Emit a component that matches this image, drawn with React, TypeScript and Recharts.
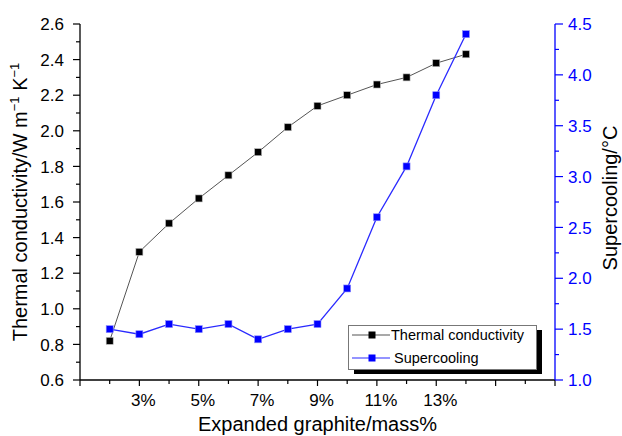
import React from 'react'
import { LineChart, Line, XAxis, YAxis, Legend, Label } from 'recharts'

// expanded graphite content (mass %)
const massPercent = [2, 3, 4, 5, 6, 7, 8, 9, 10, 11, 12, 13, 14]
// W m-1 K-1
const thermalConductivity = [0.82, 1.32, 1.48, 1.62, 1.75, 1.88, 2.02, 2.14, 2.2, 2.26, 2.3, 2.38, 2.43]
// degrees C
const supercooling = [1.5, 1.45, 1.55, 1.5, 1.55, 1.4, 1.5, 1.55, 1.9, 2.6, 3.1, 3.8, 4.4]

const xTicks = [1, 2, 3, 4, 5, 6, 7, 8, 9, 10, 11, 12, 13, 14, 15, 16, 17]
const xLabels = [3, 5, 7, 9, 11, 13]
const leftTicks = [0.6, 0.7, 0.8, 0.9, 1.0, 1.1, 1.2, 1.3, 1.4, 1.5, 1.6, 1.7, 1.8, 1.9, 2.0, 2.1, 2.2, 2.3, 2.4, 2.5, 2.6]
const leftLabels = [0.6, 0.8, 1.0, 1.2, 1.4, 1.6, 1.8, 2.0, 2.2, 2.4, 2.6]
const rightTicks = [1.0, 1.25, 1.5, 1.75, 2.0, 2.25, 2.5, 2.75, 3.0, 3.25, 3.5, 3.75, 4.0, 4.25, 4.5]
const rightLabels = [1.0, 1.5, 2.0, 2.5, 3.0, 3.5, 4.0, 4.5]
const legendOrder = ['tc', 'sc']

const rows = massPercent.map((x, i) => ({
  x,
  tc: thermalConductivity[i],
  sc: supercooling[i],
}))

const FONT = '"Liberation Sans", Arial, Helvetica, sans-serif'
const BLUE = '#0000ff'

const seriesStyle: Record<string, { line: string; marker: string; edge: string }> = {
  tc: { line: '#555555', marker: '#000000', edge: '#bbbbbb' },
  sc: { line: '#2a2aff', marker: '#0000ff', edge: '#8f8fff' },
}

const inList = (list: number[], v: number) => list.some(t => Math.abs(t - v) < 1e-6)

const BottomTick = (props: any) => {
  const { x, y, payload } = props
  const v = payload.value
  return (
    <g>
      <line x1={x} x2={x} y1={y} y2={y + (v % 2 === 1 ? 6 : 4)} stroke="#000" strokeWidth={1.2} />
      {inList(xLabels, v) && (
        <text x={x + 4} y={y + 26} textAnchor="middle" fontSize={17} fontFamily={FONT} fill="#000">
          {v}%
        </text>
      )}
    </g>
  )
}

const TopTick = (props: any) => {
  const { x, y, payload } = props
  return <line x1={x} x2={x} y1={y} y2={y + (payload.value % 2 === 1 ? 6 : 4)} stroke="#000" strokeWidth={1.2} />
}

const LeftTick = (props: any) => {
  const { x, y, payload } = props
  const major = inList(leftLabels, payload.value)
  return (
    <g>
      <line x1={x - (major ? 7 : 4)} x2={x} y1={y} y2={y} stroke="#000" strokeWidth={1.2} />
      {major && (
        <text x={x - 16} y={y} dy="0.36em" textAnchor="end" fontSize={17} fontFamily={FONT} fill="#000">
          {payload.value.toFixed(1)}
        </text>
      )}
    </g>
  )
}

const RightTick = (props: any) => {
  const { x, y, payload } = props
  const major = inList(rightLabels, payload.value)
  return (
    <g>
      <line x1={x} x2={x + (major ? 8 : 4)} y1={y} y2={y} stroke={BLUE} strokeWidth={1.2} />
      {major && (
        <text x={x + 13} y={y} dy="0.36em" textAnchor="start" fontSize={17} fontFamily={FONT} fill={BLUE}>
          {payload.value.toFixed(1)}
        </text>
      )}
    </g>
  )
}

const squareDot = (key: string) => (p: any) => {
  const s = seriesStyle[key]
  if (p.cx == null || p.cy == null) return <g key={p.index} />
  return (
    <rect key={p.index} x={p.cx - 3.5} y={p.cy - 3.5} width={7} height={7}
      fill={s.marker} stroke={s.edge} strokeWidth={0.6} />
  )
}

const LegendBox = (props: any) => {
  const { payload = [] } = props
  const items = [...payload].sort(
    (a: any, b: any) => legendOrder.indexOf(a.dataKey) - legendOrder.indexOf(b.dataKey)
  )
  return (
    <svg width={200} height={56} style={{ display: 'block' }}>
      <rect x={6} y={5} width={188} height={44} fill="#000" />
      <rect x={0.5} y={0.5} width={188} height={44} fill="#fff" stroke="#777" strokeWidth={1} />
      {items.map((entry: any, i: number) => {
        const s = seriesStyle[entry.dataKey]
        const cy = 10 + i * 23
        return (
          <g key={entry.value}>
            <line x1={4} x2={42} y1={cy} y2={cy} stroke={s.line} strokeWidth={1.2} />
            <rect x={20.5} y={cy - 3.5} width={7} height={7} fill={s.marker} />
            <text x={43 + i * 3} y={cy} dy="0.36em" fontSize={14.5} fontFamily={FONT} fill="#000">
              {entry.value}
            </text>
          </g>
        )
      })}
    </svg>
  )
}

const BottomTitle = (props: any) => {
  const vb = props.viewBox
  return (
    <text x={vb.x + vb.width / 2} y={vb.y + 51} textAnchor="middle" fontSize={20} fontFamily={FONT} fill="#000">
      Expanded graphite/mass%
    </text>
  )
}

const LeftTitle = (props: any) => {
  const vb = props.viewBox
  const x = vb.x + 27
  const y = vb.y + vb.height / 2
  return (
    <text x={x} y={y} transform={`rotate(-90, ${x}, ${y})`} textAnchor="middle" fontSize={20} fontFamily={FONT} fill="#000">
      Thermal conductivity/W m
      <tspan fontSize={13} dy={-8}>−1</tspan>
      <tspan dy={8}> K</tspan>
      <tspan fontSize={13} dy={-8}>−1</tspan>
    </text>
  )
}

const RightTitle = (props: any) => {
  const vb = props.viewBox
  const x = vb.x + 62
  const y = vb.y + vb.height / 2 - 4
  return (
    <text x={x} y={y} transform={`rotate(-90, ${x}, ${y})`} textAnchor="middle" fontSize={20} fontFamily={FONT} fill="#000">
      Supercooling/°C
    </text>
  )
}

export default function App() {
  return (
    <div style={{ position: 'absolute', left: 0, top: 0, background: '#fff' }}>
      <LineChart width={622} height={436} data={rows} margin={{ top: 24, right: 0, bottom: 0, left: 0 }}>
        <XAxis xAxisId="bottom" type="number" dataKey="x" domain={[1, 17]} ticks={xTicks} interval={0}
          height={56} tickSize={0} tickMargin={0} tickLine={false} tick={<BottomTick />}
          axisLine={{ stroke: '#000', strokeWidth: 1.3 }}>
          <Label content={<BottomTitle />} />
        </XAxis>
        <XAxis xAxisId="top" orientation="top" type="number" dataKey="x" domain={[1, 17]} ticks={xTicks} interval={0}
          height={0} tickSize={0} tickMargin={0} tickLine={false} tick={<TopTick />}
          axisLine={{ stroke: '#000', strokeWidth: 1.3 }} />
        <YAxis yAxisId="left" domain={[0.6, 2.6]} ticks={leftTicks} interval={0} width={80}
          tickSize={0} tickMargin={0} tickLine={false} tick={<LeftTick />}
          axisLine={{ stroke: '#000', strokeWidth: 1.3 }}>
          <Label content={<LeftTitle />} />
        </YAxis>
        <YAxis yAxisId="right" orientation="right" domain={[1, 4.5]} ticks={rightTicks} interval={0} width={67}
          tickSize={0} tickMargin={0} tickLine={false} tick={<RightTick />}
          axisLine={{ stroke: BLUE, strokeWidth: 1.3 }}>
          <Label content={<RightTitle />} />
        </YAxis>
        <Legend layout="vertical" align="center" verticalAlign="middle" content={<LegendBox />}
          wrapperStyle={{ left: 348, top: 325, width: 200, height: 56, margin: 0 }} />
        <Line xAxisId="bottom" yAxisId="left" type="linear" dataKey="tc" name="Thermal conductivity"
          stroke={seriesStyle.tc.line} strokeWidth={1} dot={squareDot('tc')} activeDot={false}
          isAnimationActive={false} />
        <Line xAxisId="bottom" yAxisId="right" type="linear" dataKey="sc" name="Supercooling"
          stroke={seriesStyle.sc.line} strokeWidth={1.3} dot={squareDot('sc')} activeDot={false}
          isAnimationActive={false} />
      </LineChart>
    </div>
  )
}
